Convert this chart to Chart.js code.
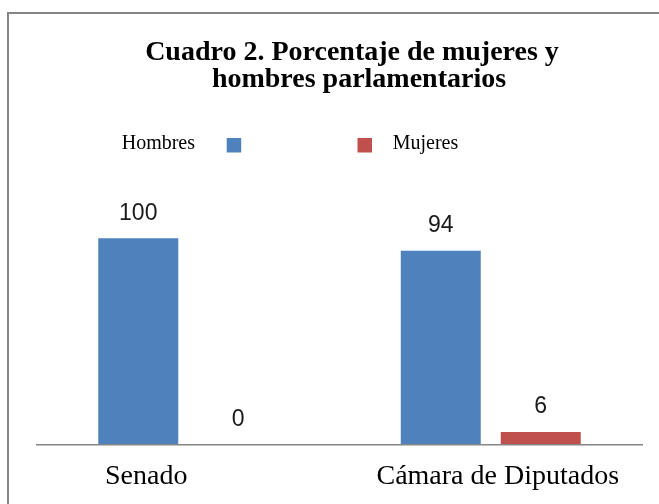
<!DOCTYPE html>
<html>
<head>
<meta charset="utf-8">
<script src="https://cdn.jsdelivr.net/npm/chart.js@4.4.1/dist/chart.umd.min.js"></script>
<style>
  html, body { margin: 0; padding: 0; background: #fff; overflow: hidden; width: 659px; height: 504px; }
  #frame { position: absolute; left: 7px; top: 12px; width: 700px; height: 530px;
           border-left: 2px solid #858585; border-top: 2px solid #858585; }
  #c { position: absolute; left: 0; top: 0; }
</style>
</head>
<body>
<div id="frame"><canvas id="c" width="678" height="506"></canvas></div>
<script>
// ---- data ----
const categories = ["Senado", "Cámara de Diputados"];
const seriesNames = ["Hombres", "Mujeres"];
const hombres = [100, 94];
const mujeres = [0, 6];
const titleLines = ["Cuadro 2. Porcentaje de mujeres y", "  hombres parlamentarios"];

// ---- styles ----
const BLUE = "#4F81BD";
const RED = "#C0504D";

// custom legend: "Hombres ■" and "■ Mujeres"
const customLegend = {
  id: "customLegend",
  afterDraw(chart) {
    const ctx = chart.ctx;
    const ds = chart.data.datasets;
    ctx.save();
    ctx.font = "20px 'Liberation Serif'";
    ctx.fillStyle = "#000";
    ctx.textBaseline = "alphabetic";
    ctx.textAlign = "left";
    const baseY = 134.5, boxTop = 124, box = 14.5;
    ctx.fillText(ds[0].label, 112.7, baseY);
    ctx.fillStyle = ds[0].backgroundColor;
    ctx.fillRect(217.7, boxTop, box, box);
    ctx.fillStyle = ds[1].backgroundColor;
    ctx.fillRect(348.5, boxTop, box, box);
    ctx.fillStyle = "#000";
    ctx.fillText(ds[1].label, 383.7, baseY);
    ctx.restore();
  }
};

// value labels above bars
const valueLabels = {
  id: "valueLabels",
  afterDatasetsDraw(chart) {
    const ctx = chart.ctx;
    ctx.save();
    ctx.font = "23px 'Liberation Sans'";
    ctx.fillStyle = "#1a1a1a";
    ctx.textAlign = "center";
    ctx.textBaseline = "alphabetic";
    chart.data.datasets.forEach((d, di) => {
      chart.getDatasetMeta(di).data.forEach((el, i) => {
        ctx.fillText(String(d.data[i]), el.x, el.y - 18.5);
      });
    });
    ctx.restore();
  }
};

const catPad = ["            ", "  "];

new Chart(document.getElementById("c"), {
  type: "bar",
  data: {
    labels: categories,
    datasets: [
      { label: seriesNames[0], data: hombres, backgroundColor: BLUE,
        categoryPercentage: 0.661, barPercentage: 0.8 },
      { label: seriesNames[1], data: mujeres, backgroundColor: RED,
        categoryPercentage: 0.661, barPercentage: 0.8 }
    ]
  },
  options: {
    responsive: false,
    animation: false,
    devicePixelRatio: 1,
    layout: { padding: { left: 28, right: 20, top: 0, bottom: 10.7 } },
    plugins: {
      legend: { display: false },
      tooltip: { enabled: false },
      title: {
        display: true,
        text: titleLines,
        color: "#000",
        font: { family: "'Liberation Serif'", size: 28, weight: "bold", lineHeight: 0.98 },
        padding: { top: 24.6, bottom: 103.6 }
      }
    },
    scales: {
      x: {
        grid: { display: false, drawTicks: false },
        border: { display: true, color: "#868686", width: 1.5 },
        ticks: {
          color: "#000",
          font: { family: "'Liberation Serif'", size: 28 },
          padding: 15.7,
          maxRotation: 0,
          autoSkip: false,
          callback: (v, i) => i === 0 ? categories[i] + catPad[0] : catPad[1] + categories[i]
        }
      },
      y: {
        display: false,
        min: 0,
        max: 120
      },
      yRight: {
        position: "right",
        display: true,
        min: 0,
        max: 1,
        grid: { display: false, drawTicks: false },
        border: { display: false },
        ticks: { display: false },
        afterFit: (s) => { s.width = 25; }
      }
    }
  },
  plugins: [customLegend, valueLabels]
});
</script>
</body>
</html>
